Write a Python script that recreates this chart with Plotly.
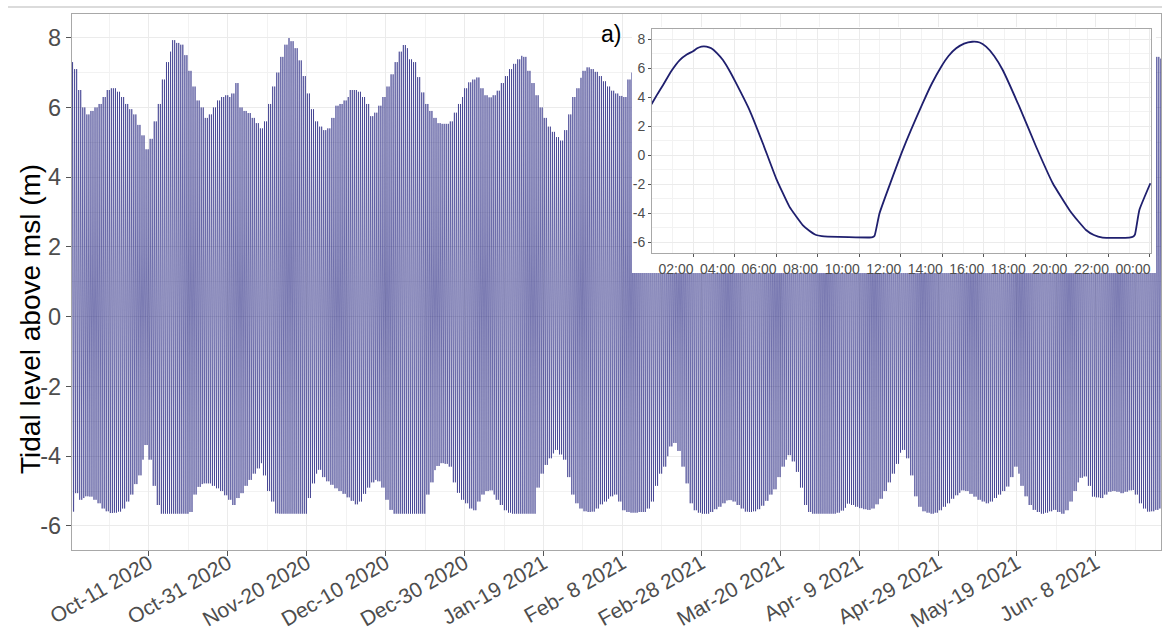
import pandas as pd
import plotly.graph_objects as go

# ---------------- data ----------------
start_day = "2020-09-21"
# daily high-water and low-water envelope (m above msl), one value per day
daily_high = [
    7.3, 7.1, 6.5, 6.0, 5.8, 5.9, 6.0, 6.1, 6.3, 6.5,
    6.55, 6.55, 6.45, 6.3, 6.1, 5.95, 5.8, 5.5, 5.2, 4.8,
    5.1, 5.6, 6.1, 6.8, 7.3, 7.6, 7.93, 7.85, 7.8, 7.5,
    7.05, 6.6, 6.2, 6.0, 5.7, 5.8, 6.0, 6.2, 6.3, 6.35,
    6.3, 6.4, 6.7, 6.0, 5.9, 5.84, 5.7, 5.55, 5.4, 5.6,
    6.1, 6.6, 7.0, 7.45, 7.8, 7.99, 7.9, 7.7, 7.35, 6.9,
    6.4, 5.95, 5.6, 5.45, 5.35, 5.4, 5.7, 6.05, 6.1, 6.2,
    6.3, 6.5, 6.5, 6.45, 6.3, 6.1, 5.75, 5.85, 6.05, 6.3,
    6.6, 6.95, 7.3, 7.6, 7.79, 7.7, 7.38, 7.3, 6.87, 6.43,
    6.1, 5.9, 5.7, 5.55, 5.53, 5.53, 5.6, 5.85, 6.1, 6.3,
    6.55, 6.72, 6.8, 6.86, 6.55, 6.35, 6.29, 6.35, 6.48, 6.7,
    6.9, 7.1, 7.25, 7.38, 7.48, 7.45, 7.05, 6.7, 6.35, 6.0,
    5.7, 5.45, 5.3, 5.15, 5.05, 5.35, 5.8, 6.3, 6.55, 6.85,
    7.05, 7.15, 7.1, 7.02, 6.9, 6.75, 6.6, 6.48, 6.4, 6.33,
    6.3, 6.8, 7.0, 7.05, 7.0, 6.9, 6.7, 6.4, 6.0, 5.6,
    5.3, 5.1, 4.95, 4.9, 5.1, 5.6, 6.2, 6.8, 7.2, 7.4,
    7.45, 7.4, 7.25, 7.0, 6.8, 6.6, 6.5, 6.55, 6.6, 6.75,
    6.9, 7.0, 7.05, 7.0, 6.9, 6.7, 6.45, 6.15, 5.8, 5.5,
    5.3, 5.15, 5.1, 5.3, 5.7, 6.2, 6.7, 7.1, 7.4, 7.55,
    7.6, 7.6, 7.5, 7.35, 7.2, 7.05, 6.9, 6.85, 6.9, 6.95,
    7.0, 7.0, 6.95, 6.85, 6.6, 6.3, 6.0, 5.7, 5.4, 5.15,
    5.0, 5.1, 5.4, 5.9, 6.5, 7.0, 7.3, 7.4, 7.4, 7.3,
    7.1, 6.9, 6.7, 6.55, 6.4, 6.3, 6.2, 6.25, 6.35, 6.5,
    6.6, 6.65, 6.65, 6.55, 6.4, 6.2, 6.0, 5.8, 5.65, 5.6,
    5.7, 6.0, 6.4, 6.8, 7.05, 7.2, 7.25, 7.2, 7.15, 7.15,
    7.2, 7.1, 6.9, 6.6, 6.3, 6.05, 5.9, 5.9, 6.0, 6.2,
    6.3, 6.35, 6.3, 6.25, 6.25, 6.3, 6.3, 6.25, 6.2, 6.3,
    6.55, 6.8, 7.0, 7.2, 7.35, 7.45, 7.4,
]
daily_low = [
    -5.59, -5.06, -5.25, -5.2, -5.15, -5.16, -5.25, -5.35, -5.5, -5.58,
    -5.63, -5.62, -5.59, -5.5, -5.3, -5.1, -4.8, -4.55, -4.1, -3.68,
    -4.1, -4.85, -5.4, -5.65, -5.65, -5.65, -5.65, -5.65, -5.65, -5.65,
    -5.6, -5.1, -4.88, -4.8, -4.78, -4.78, -4.85, -4.92, -5.0, -5.12,
    -5.25, -5.4, -5.2, -5.06, -4.85, -4.68, -4.5, -4.35, -4.2, -4.55,
    -5.0, -5.3, -5.64, -5.65, -5.65, -5.65, -5.65, -5.65, -5.65, -5.65,
    -5.2, -4.78, -4.5, -4.39, -4.6, -4.72, -4.82, -4.92, -5.0, -5.08,
    -5.18, -5.28, -5.38, -5.3, -5.08, -4.9, -4.75, -4.68, -4.72, -4.9,
    -5.25, -5.54, -5.65, -5.65, -5.65, -5.65, -5.65, -5.65, -5.65, -5.65,
    -5.1, -4.75, -4.4, -4.28, -4.2, -4.22, -4.3, -4.75, -5.05, -5.25,
    -5.35, -5.5, -5.55, -5.3, -5.1, -5.0, -4.98, -5.1, -5.25, -5.4,
    -5.55, -5.62, -5.65, -5.65, -5.65, -5.65, -5.65, -5.65, -4.9, -4.5,
    -4.25, -4.06, -3.92, -3.82, -3.95, -4.1, -4.6, -5.1, -5.35, -5.5,
    -5.58, -5.6, -5.59, -5.5, -5.38, -5.3, -5.22, -5.15, -5.1, -5.3,
    -5.55, -5.6, -5.62, -5.62, -5.6, -5.6, -5.5, -5.3, -4.85, -4.5,
    -4.3, -4.0, -3.72, -3.62, -3.85, -4.3, -4.78, -5.35, -5.55, -5.62,
    -5.65, -5.65, -5.6, -5.52, -5.45, -5.35, -5.27, -5.26, -5.3, -5.4,
    -5.5, -5.59, -5.6, -5.58, -5.52, -5.42, -5.28, -5.1, -4.95, -4.6,
    -4.3, -4.1, -3.97, -4.15, -4.45, -4.9, -5.4, -5.6, -5.65, -5.65,
    -5.65, -5.65, -5.65, -5.65, -5.62, -5.56, -5.48, -5.36, -5.4, -5.45,
    -5.49, -5.52, -5.54, -5.5, -5.38, -5.22, -5.0, -4.75, -4.5, -4.22,
    -3.9, -3.82, -4.06, -4.55, -5.15, -5.45, -5.58, -5.62, -5.65, -5.62,
    -5.55, -5.45, -5.35, -5.22, -5.12, -5.05, -4.98, -5.0, -5.08, -5.16,
    -5.25, -5.3, -5.35, -5.3, -5.2, -5.1, -5.0, -4.87, -4.6, -4.3,
    -4.5, -4.85, -5.15, -5.4, -5.54, -5.6, -5.65, -5.62, -5.58, -5.54,
    -5.6, -5.65, -5.55, -5.3, -5.0, -4.75, -4.62, -4.58, -4.85, -5.16,
    -5.18, -5.2, -5.1, -5.02, -5.0, -5.02, -5.06, -5.02, -4.98, -4.97,
    -5.1, -5.35, -5.5, -5.59, -5.58, -5.54, -5.5,
]
tick_dates = ["2020-10-11", "2020-10-31", "2020-11-20", "2020-12-10", "2020-12-30",
              "2021-01-19", "2021-02-08", "2021-02-28", "2021-03-20", "2021-04-09",
              "2021-04-29", "2021-05-19", "2021-06-08"]
tick_labels = ["Oct-11 2020", "Oct-31 2020", "Nov-20 2020", "Dec-10 2020", "Dec-30 2020",
               "Jan-19 2021", "Feb- 8 2021", "Feb-28 2021", "Mar-20 2021", "Apr- 9 2021",
               "Apr-29 2021", "May-19 2021", "Jun- 8 2021"]
y_ticks = [-6, -4, -2, 0, 2, 4, 6, 8]
y_tick_labels = ["-6", "-4", "-2", "0", "2", "4", "6", "8"]

# inset (a): one day of tidal level
inset_day = "2021-01-01"
inset_hours = [0.0, 0.3, 0.56, 0.95, 1.36, 1.7, 2.0, 2.2, 2.4, 2.65, 2.88, 3.15, 3.44, 3.75,
               4.08, 4.72, 5.36, 6.0, 6.64, 7.28, 7.6, 7.93, 8.2, 8.49, 9.5, 10.5, 10.65,
               10.74, 10.98, 12.1, 13.06, 13.5, 13.95, 14.3, 14.67, 15.05, 15.44, 15.8,
               16.11, 16.5, 16.91, 17.71, 18.52, 19.32, 20.12, 20.55, 20.92, 21.3, 21.72,
               23.0, 23.2, 23.28, 23.49, 24.02]
inset_level = [3.52, 4.25, 4.85, 5.8, 6.57, 6.95, 7.18, 7.38, 7.5, 7.5, 7.38, 7.05, 6.57, 5.85,
               4.96, 3.12, 0.83, -1.59, -3.54, -4.81, -5.2, -5.5, -5.58, -5.61, -5.65, -5.67,
               -5.64, -5.55, -4.0, 0.37, 3.59, 4.95, 6.11, 6.85, 7.38, 7.7, 7.83, 7.78,
               7.49, 6.85, 5.88, 3.35, 0.59, -1.93, -3.77, -4.55, -5.15, -5.5, -5.68,
               -5.68, -5.6, -5.45, -3.77, -1.93]
inset_y_ticks = [-6, -4, -2, 0, 2, 4, 6, 8]
inset_y_labels = ["-6", "-4", "-2", "0", "2", "4", "6", "8"]

# ---------------- build series ----------------
# turning points follow the semidiurnal tide (high/low every ~6.21 h);
# each one takes the envelope value of the day it falls in
start = pd.Timestamp(start_day)
n_days = min(len(daily_high), len(daily_low))
half_period = pd.Timedelta(minutes=372.6)
t_main, v_main = [], []
t = start + pd.Timedelta(hours=3)
k = 0
while t < start + pd.Timedelta(days=n_days):
    d = (t - start).days
    t_main.append(t)
    v_main.append(daily_high[d] if k % 2 == 0 else daily_low[d])
    t += half_period
    k += 1

base = pd.Timestamp(inset_day)
t_inset = [base + pd.Timedelta(hours=h) for h in inset_hours]
minor_dates = [pd.Timestamp(d) - pd.Timedelta(days=10) for d in tick_dates] + \
              [pd.Timestamp(tick_dates[-1]) + pd.Timedelta(days=10)]

# ---------------- figure ----------------
W, H = 1162, 630
L, R, T, B = 72, 1, 14, 80
pw, ph = W - L - R, H - T - B


def px_x(x):
    return (x - L) / pw


def px_y(y):
    return (H - B - y) / ph


FONT = "Liberation Sans, Arial, sans-serif"
GRID = "#ebebeb"
BORDER = "#a8a8a8"
TICKC = "#4d4d4d"

fig = go.Figure()
fig.add_trace(go.Scatter(x=t_main, y=v_main, mode="lines",
                         line=dict(color="rgba(32,32,125,0.66)", width=0.9),
                         hoverinfo="skip", showlegend=False))
# white backing box for the inset (its own subplot so it covers the main series)
fig.add_trace(go.Scatter(x=[], y=[], xaxis="x2", yaxis="y2", showlegend=False))
fig.add_trace(go.Scatter(x=t_inset, y=inset_level, xaxis="x3", yaxis="y3", mode="lines",
                         line=dict(color="#1f1f6e", width=1.8, shape="spline", smoothing=0.4),
                         hoverinfo="skip", showlegend=False))

fig.update_layout(
    width=W, height=H,
    margin=dict(l=L, r=R, t=T, b=B, autoexpand=False),
    paper_bgcolor="white", plot_bgcolor="white",
    font=dict(family=FONT, color=TICKC),
    xaxis=dict(
        type="date", range=["2020-09-21 12:00", "2021-06-24 12:00"], automargin=False,
        tickmode="array", tickvals=tick_dates, ticktext=tick_labels, tickangle=-30,
        tickfont=dict(size=21, color=TICKC), ticks="outside", ticklen=5, tickcolor="#555",
        ticklabelstandoff=-13,
        showgrid=True, gridcolor=GRID, gridwidth=1.2,
        minor=dict(tickmode="array", tickvals=minor_dates, showgrid=True,
                   gridcolor="#f2f2f2", gridwidth=0.8, ticks=""),
        showline=True, mirror=True, linecolor=BORDER, linewidth=1.3, zeroline=False,
    ),
    yaxis=dict(
        range=[-6.69, 8.68], tickmode="array", tickvals=y_ticks, ticktext=y_tick_labels,
        automargin=False,
        tickfont=dict(size=23.5, color=TICKC), ticks="outside", ticklen=5, tickcolor="#555",
        showgrid=True, gridcolor=GRID, gridwidth=1.2,
        minor=dict(dtick=1, tick0=-7, showgrid=True, gridcolor="#f2f2f2", gridwidth=0.8, ticks=""),
        showline=True, mirror=True, linecolor=BORDER, linewidth=1.3, zeroline=False,
    ),
    xaxis2=dict(domain=[px_x(632), px_x(1156)], anchor="y2", range=[0, 1], automargin=False,
                showgrid=False, zeroline=False, showline=False, showticklabels=False, ticks=""),
    yaxis2=dict(domain=[px_y(273), px_y(27)], anchor="x2", range=[0, 1], automargin=False,
                showgrid=False, zeroline=False, showline=False, showticklabels=False, ticks=""),
    xaxis3=dict(
        domain=[px_x(652), px_x(1151)], anchor="y3", type="date", automargin=False,
        range=[base + pd.Timedelta(minutes=1.5), base + pd.Timedelta(hours=24, minutes=3)],
        tick0=base, dtick=2 * 3600 * 1000, tickformat="%H:%M",
        tickfont=dict(size=14, color=TICKC), ticks="outside", ticklen=3, tickcolor="#555",
        ticklabelshift=-17,
        showgrid=True, gridcolor=GRID, gridwidth=1,
        minor=dict(dtick=3600 * 1000, showgrid=True, gridcolor="#f2f2f2", gridwidth=0.6, ticks=""),
        showline=True, mirror=True, linecolor=BORDER, linewidth=1, zeroline=False,
    ),
    yaxis3=dict(
        domain=[px_y(253), px_y(29)], anchor="x3", range=[-6.74, 8.71], automargin=False,
        tickmode="array", tickvals=inset_y_ticks, ticktext=inset_y_labels,
        tickfont=dict(size=14, color=TICKC), ticks="outside", ticklen=3, tickcolor="#555",
        showgrid=True, gridcolor=GRID, gridwidth=1,
        minor=dict(dtick=1, tick0=-7, showgrid=True, gridcolor="#f2f2f2", gridwidth=0.6, ticks=""),
        showline=True, mirror=True, linecolor=BORDER, linewidth=1, zeroline=False,
    ),
    shapes=[dict(type="line", xref="paper", yref="paper",
                 x0=px_x(8), x1=px_x(1162), y0=px_y(7), y1=px_y(7),
                 line=dict(color="#cfcfcf", width=1.5))],
    annotations=[
        dict(text="Tidal level above msl (m)", xref="paper", yref="paper",
             x=px_x(30), y=px_y(319), textangle=-90, showarrow=False,
             font=dict(size=28, color="black", family=FONT), xanchor="center", yanchor="middle"),
        dict(text="a)", xref="paper", yref="paper", x=px_x(611), y=px_y(34),
             showarrow=False, font=dict(size=23, color="black", family=FONT),
             xanchor="center", yanchor="middle"),
    ],
)

fig.write_html("out.html")
